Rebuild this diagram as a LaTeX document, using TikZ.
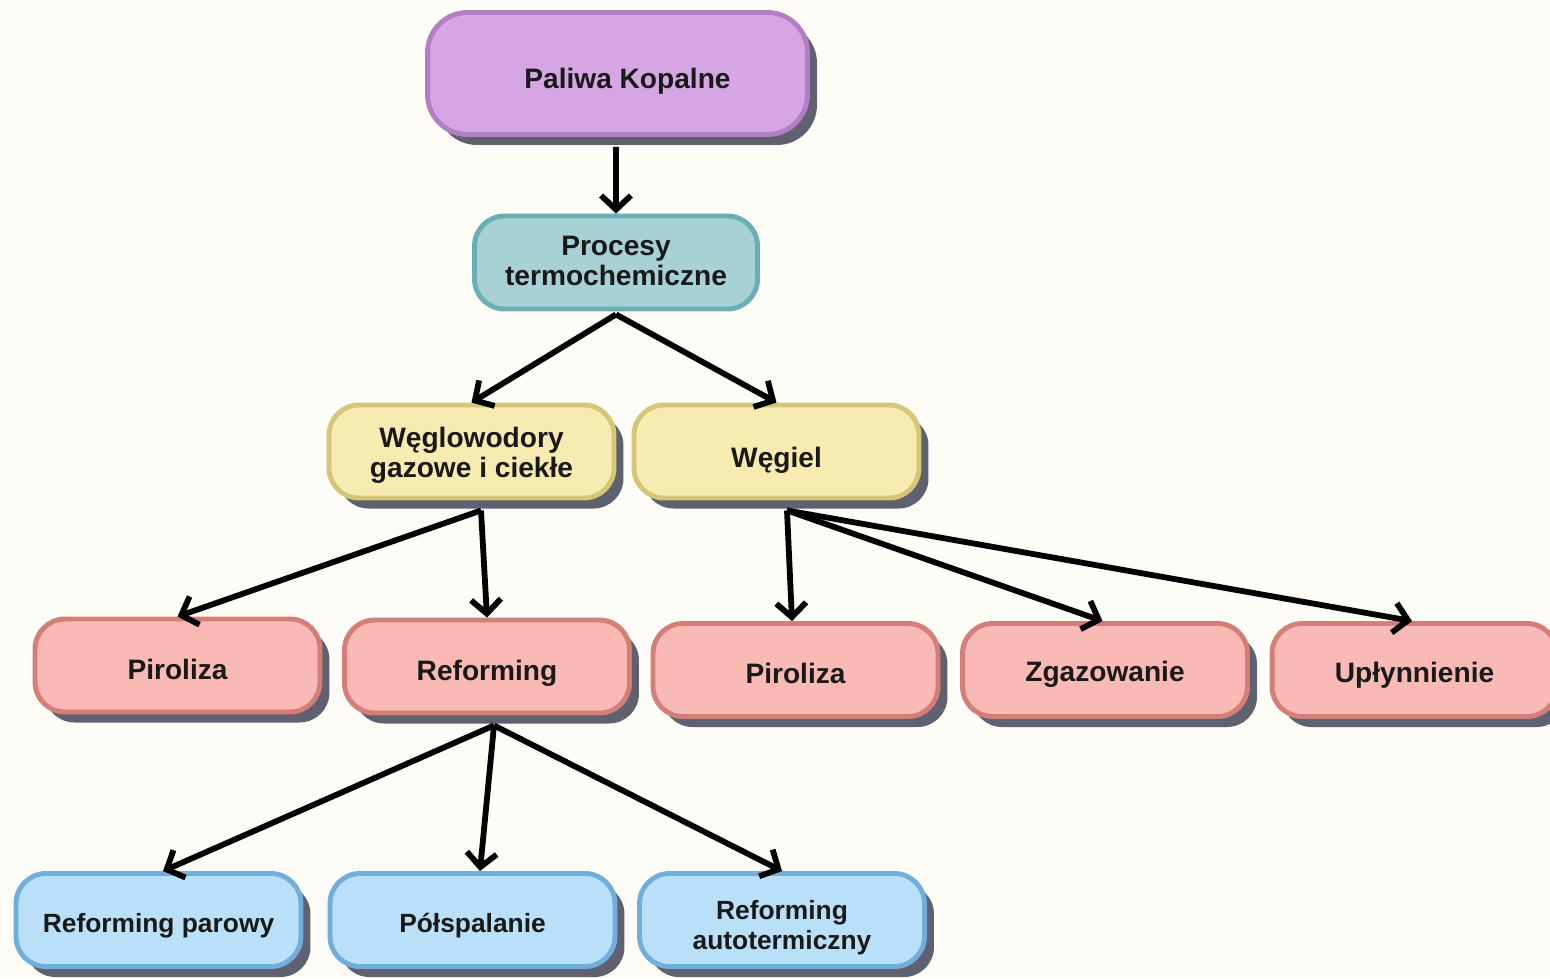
\documentclass[tikz,border=0pt]{standalone}
\usepackage{fontspec}
\setmainfont{Liberation Sans}
\usetikzlibrary{shadows,arrows.meta}
\definecolor{bgc}{HTML}{FDFCF7}
\definecolor{shc}{HTML}{5F6070}
\definecolor{purf}{HTML}{D6A6E4}
\definecolor{purd}{HTML}{B47EC6}
\definecolor{teaf}{HTML}{A7D1D5}
\definecolor{tead}{HTML}{6AAFB6}
\definecolor{yelf}{HTML}{F7EBB1}
\definecolor{yeld}{HTML}{D3C677}
\definecolor{pinf}{HTML}{F9BAB5}
\definecolor{pind}{HTML}{D57E77}
\definecolor{bluf}{HTML}{B9E0F8}
\definecolor{blud}{HTML}{71AEDC}
\newcommand{\twolines}[2]{\begin{tabular}{@{}c@{}}#1\\#2\end{tabular}}
\tikzset{
  box/.style={rectangle, rounded corners=0.6cm, line width=2.8pt, align=center,
    minimum width=5.7cm, minimum height=1.86cm, inner sep=2pt,
    font=\fontsize{16}{17}\selectfont\bfseries, text=black!90},
  oneline/.style={text height=#1, text depth=0pt},
  shad/.style={drop shadow={shadow xshift=0.19cm, shadow yshift=-0.21cm, fill=shc, opacity=1}},
  purbox/.style={box, shad, fill=purf, draw=purd, rounded corners=0.8cm},
  teabox/.style={box, fill=teaf, draw=tead},
  yelbox/.style={box, shad, fill=yelf, draw=yeld},
  pinbox/.style={box, shad, fill=pinf, draw=pind},
  blubox/.style={box, shad, fill=bluf, draw=blud, font=\fontsize{15}{17}\selectfont\bfseries},
  arr/.style={line width=3.3pt, -{Straight Barb[length=8pt,width=17pt,line width=3.3pt]}}
}
\begin{document}
\begin{tikzpicture}[x=0.02cm,y=-0.02cm]
\fill[bgc] (0,0) rectangle (1550,978);
\useasboundingbox (0,0) rectangle (1550,978);

\node[purbox, oneline=17.5pt, minimum width=7.6cm, minimum height=2.44cm] (top) at (617.5,73.5) {\hspace*{0.4cm}Paliwa Kopalne};
\node[teabox, minimum width=5.66cm, text height=15.5pt, text depth=4.5pt] (proc) at (616,262.5) {\twolines{Procesy}{termochemiczne}};
\node[yelbox, text height=17.4pt, text depth=2.6pt] (weglo) at (471.5,451.5) {\twolines{Węglowodory}{gazowe i ciekłe}};
\node[yelbox, oneline=18.5pt] (wegiel) at (776.5,451.5) {Węgiel};
\node[pinbox, oneline=15.5pt] (pir1) at (177.5,665.5) {Piroliza};
\node[pinbox, oneline=15.5pt] (ref) at (487,666.5) {Reforming};
\node[pinbox, oneline=15.5pt] (pir2) at (795.5,670) {Piroliza};
\node[pinbox, oneline=13.5pt] (zgaz) at (1105,670) {Zgazowanie};
\node[pinbox, oneline=14.5pt] (upl) at (1414.5,670) {Upłynnienie};
\node[blubox, oneline=14.5pt] (refpar) at (158.5,920) {Reforming parowy};
\node[blubox, oneline=14.5pt] (polsp) at (472.5,920) {Półspalanie};
\node[blubox, text height=18.5pt, text depth=1.5pt] (refauto) at (782,920) {\twolines{Reforming}{autotermiczny}};

\draw[arr] ([xshift=-0.03cm,yshift=-0.2cm]top.south) -- (proc.north);
\draw[arr] ([yshift=-0.06cm]proc.south) -- (weglo.north);
\draw[arr] ([yshift=-0.06cm]proc.south) -- (wegiel.north);
\draw[arr] ([xshift=0.19cm,yshift=-0.2cm]weglo.south) -- (pir1.north);
\draw[arr] ([xshift=0.19cm,yshift=-0.2cm]weglo.south) -- (ref.north);
\draw[arr] ([xshift=0.21cm,yshift=-0.2cm]wegiel.south) -- ([xshift=-0.07cm]pir2.north);
\draw[arr] ([xshift=0.21cm,yshift=-0.2cm]wegiel.south) -- ([xshift=-0.05cm]zgaz.north);
\draw[arr] ([xshift=0.21cm,yshift=-0.2cm]wegiel.south) -- ([xshift=-0.05cm]upl.north);
\draw[arr] ([xshift=0.14cm,yshift=-0.2cm]ref.south) -- ([xshift=0.09cm]refpar.north);
\draw[arr] ([xshift=0.14cm,yshift=-0.2cm]ref.south) -- ([xshift=0.15cm]polsp.north);
\draw[arr] ([xshift=0.14cm,yshift=-0.2cm]ref.south) -- (refauto.north);
\end{tikzpicture}
\end{document}
